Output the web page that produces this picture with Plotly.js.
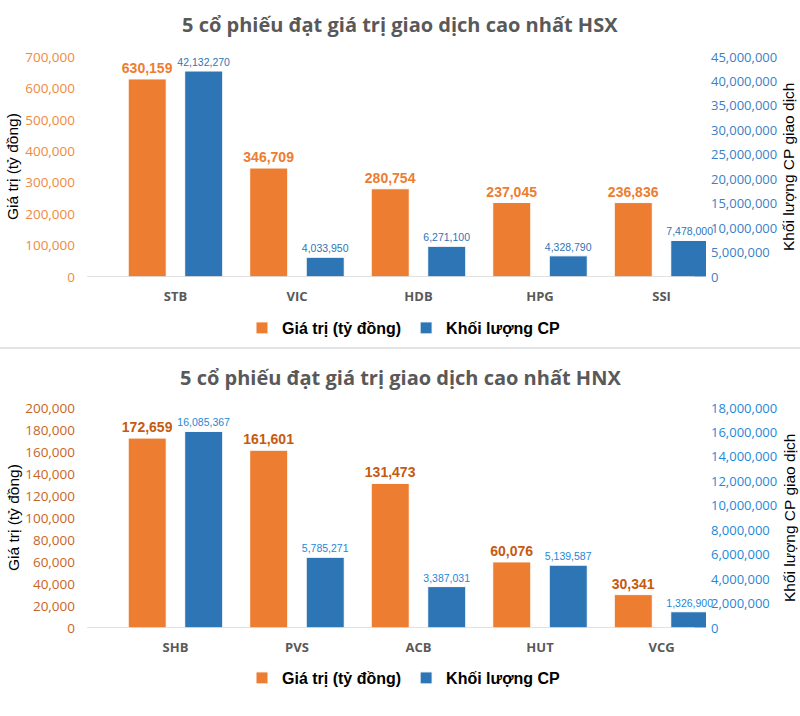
<!DOCTYPE html>
<html>
<head>
<meta charset="utf-8">
<script src="https://cdn.plot.ly/plotly-3.0.1.min.js"></script>
<style>html,body{margin:0;padding:0;background:#fff;}#chart{width:800px;height:716px;}</style>
</head>
<body>
<div id="chart"></div>
<script>
// ---- Data ----
const hsxTickers = ["STB", "VIC", "HDB", "HPG", "SSI"];
const hsxValue = [630159, 346709, 280754, 237045, 236836];          // Giá trị (tỷ đồng)
const hsxVolume = [42132270, 4033950, 6271100, 4328790, 7478000];   // Khối lượng CP

const hnxTickers = ["SHB", "PVS", "ACB", "HUT", "VCG"];
const hnxValue = [172659, 161601, 131473, 60076, 30341];
const hnxVolume = [16085367, 5785271, 3387031, 5139587, 1326900];

const seriesNames = ["Giá trị (tỷ đồng)", "Khối lượng CP"];
const titles = ["5 cổ phiếu đạt giá trị giao dịch cao nhất HSX", "5 cổ phiếu đạt giá trị giao dịch cao nhất HNX"];
const leftTitle = "Giá trị (tỷ đồng)";
const rightTitle = "Khối lượng CP giao dịch";

// ---- Styling / layout helpers ----
const W = 800, H = 716;
const L = 87, R = 94;
const plotW = W - L - R;
const fmt = v => v.toLocaleString("en-US");
const py = px => (H - px) / H;          // pixel y -> paper y
const pxX = px => (px - L) / plotW;     // pixel x -> paper x

const ORANGE = "#ED7D31", BLUE = "#2E75B6";
const barW = 0.313;
const xRange = [-0.728, 4.366];

function barsFor(cats, vals, vols, xa, ya, ya2, legend, lblOrange, lblBlue) {
  return [
    {
      type: "bar", name: seriesNames[0], x: cats, y: vals, xaxis: xa, yaxis: ya,
      width: barW, offset: -0.389,
      marker: {color: ORANGE, line: {color: "#ffffff", width: 1}},
      text: vals.map(fmt), textposition: "outside", cliponaxis: false, constraintext: "none",
      textfont: {family: "Liberation Sans, Arial, sans-serif", size: 14, color: lblOrange, weight: "bold"},
      legend: legend, hoverinfo: "x+y"
    },
    {
      type: "bar", name: seriesNames[1], x: cats, y: vols, xaxis: xa, yaxis: ya2,
      width: barW, offset: 0.076,
      marker: {color: BLUE, line: {color: "#ffffff", width: 1}},
      text: vols.map(fmt), textposition: "outside", cliponaxis: false, constraintext: "none",
      textfont: {family: "Liberation Sans, Arial, sans-serif", size: 10.5, color: lblBlue},
      legend: legend, hoverinfo: "x+y"
    }
  ];
}

const data = [
  ...barsFor(hsxTickers, hsxValue, hsxVolume, "x", "y", "y2", "legend", ORANGE, "#2E75B6"),
  ...barsFor(hnxTickers, hnxValue, hnxVolume, "x2", "y3", "y4", "legend2", "#C55A11", "#1E88D8")
];

const topDom = [py(277), py(57)];
const botDom = [py(628), py(408)];

const xCommon = {
  range: xRange, showgrid: false, zeroline: false, showline: false, ticks: "",
  ticklabelstandoff: 10,
  tickfont: {family: "Open Sans, sans-serif", size: 13, color: "#595959", weight: "bold"},
  fixedrange: true
};
const yLeftCommon = {
  showgrid: false, zeroline: false, showline: false, ticks: "",
  tickformat: ",d", ticklabelstandoff: 11, fixedrange: true
};

const leftTick = 13.5, rightTick = 13;

const layout = {
  width: W, height: H,
  margin: {l: L, r: R, t: 0, b: 0},
  paper_bgcolor: "#ffffff", plot_bgcolor: "#ffffff",
  showlegend: true,
  bargap: 0, barmode: "overlay",
  font: {family: "Liberation Sans, Arial, sans-serif"},
  xaxis: Object.assign({}, xCommon, {domain: [0, 1], anchor: "y"}),
  xaxis2: Object.assign({}, xCommon, {domain: [0, 1], anchor: "y3"}),
  yaxis: Object.assign({}, yLeftCommon, {domain: topDom, range: [0, 700000], dtick: 100000,
    tickfont: {family: "Open Sans, sans-serif", size: leftTick, color: "#F08A3E"}}),
  yaxis2: Object.assign({}, yLeftCommon, {overlaying: "y", side: "right", anchor: "x", range: [0, 45000000], dtick: 5000000,
    ticklabelstandoff: 4, tickfont: {family: "Open Sans, sans-serif", size: rightTick, color: "#3A7FC4"}}),
  yaxis3: Object.assign({}, yLeftCommon, {domain: botDom, anchor: "x2", range: [0, 200000], dtick: 20000,
    tickfont: {family: "Open Sans, sans-serif", size: leftTick, color: "#C8661E"}}),
  yaxis4: Object.assign({}, yLeftCommon, {overlaying: "y3", side: "right", anchor: "x2", range: [0, 18000000], dtick: 2000000,
    ticklabelstandoff: 4, tickfont: {family: "Open Sans, sans-serif", size: rightTick, color: "#1E88D8"}}),
  legend: {orientation: "h", x: pxX(404), xanchor: "center", y: py(328), yanchor: "middle",
    font: {family: "Liberation Sans, Arial, sans-serif", size: 16, color: "#000000", weight: "bold"},
    itemwidth: 30, bgcolor: "rgba(0,0,0,0)"},
  legend2: {orientation: "h", x: pxX(404), xanchor: "center", y: py(678), yanchor: "middle",
    font: {family: "Liberation Sans, Arial, sans-serif", size: 16, color: "#000000", weight: "bold"},
    itemwidth: 30, bgcolor: "rgba(0,0,0,0)"},
  annotations: [
    {text: titles[0], xref: "paper", yref: "paper", x: pxX(400), y: py(25), xanchor: "center", yanchor: "middle", showarrow: false,
      font: {family: "Open Sans, sans-serif", size: 20, color: "#595959", weight: "bold"}},
    {text: titles[1], xref: "paper", yref: "paper", x: pxX(400), y: py(377), xanchor: "center", yanchor: "middle", showarrow: false,
      font: {family: "Open Sans, sans-serif", size: 20, color: "#595959", weight: "bold"}},
    {text: leftTitle, xref: "paper", yref: "paper", x: pxX(13), y: py(167), textangle: -90, xanchor: "center", yanchor: "middle", showarrow: false,
      font: {family: "Liberation Sans, Arial, sans-serif", size: 15.5, color: "#000000"}},
    {text: rightTitle, xref: "paper", yref: "paper", x: pxX(789), y: py(167), textangle: -90, xanchor: "center", yanchor: "middle", showarrow: false,
      font: {family: "Liberation Sans, Arial, sans-serif", size: 15.5, color: "#000000"}},
    {text: leftTitle, xref: "paper", yref: "paper", x: pxX(13), y: py(518), textangle: -90, xanchor: "center", yanchor: "middle", showarrow: false,
      font: {family: "Liberation Sans, Arial, sans-serif", size: 15.5, color: "#000000"}},
    {text: rightTitle, xref: "paper", yref: "paper", x: pxX(789), y: py(518), textangle: -90, xanchor: "center", yanchor: "middle", showarrow: false,
      font: {family: "Liberation Sans, Arial, sans-serif", size: 15.5, color: "#000000"}}
  ],
  shapes: [
    // category axis baselines
    {type: "line", xref: "paper", yref: "y", x0: 0, x1: pxX(694.5), y0: 0, y1: 0, line: {color: "#D9D9D9", width: 1.5}, layer: "above"},
    {type: "line", xref: "paper", yref: "y3", x0: 0, x1: pxX(694.5), y0: 0, y1: 0, line: {color: "#D9D9D9", width: 1.5}, layer: "above"},
    // separator between the two charts
    {type: "line", xref: "paper", yref: "paper", x0: pxX(0), x1: pxX(800), y0: py(348), y1: py(348), line: {color: "#E3E3E3", width: 2}}
  ]
};

Plotly.newPlot("chart", data, layout, {displayModeBar: false, staticPlot: true});
</script>
</body>
</html>
